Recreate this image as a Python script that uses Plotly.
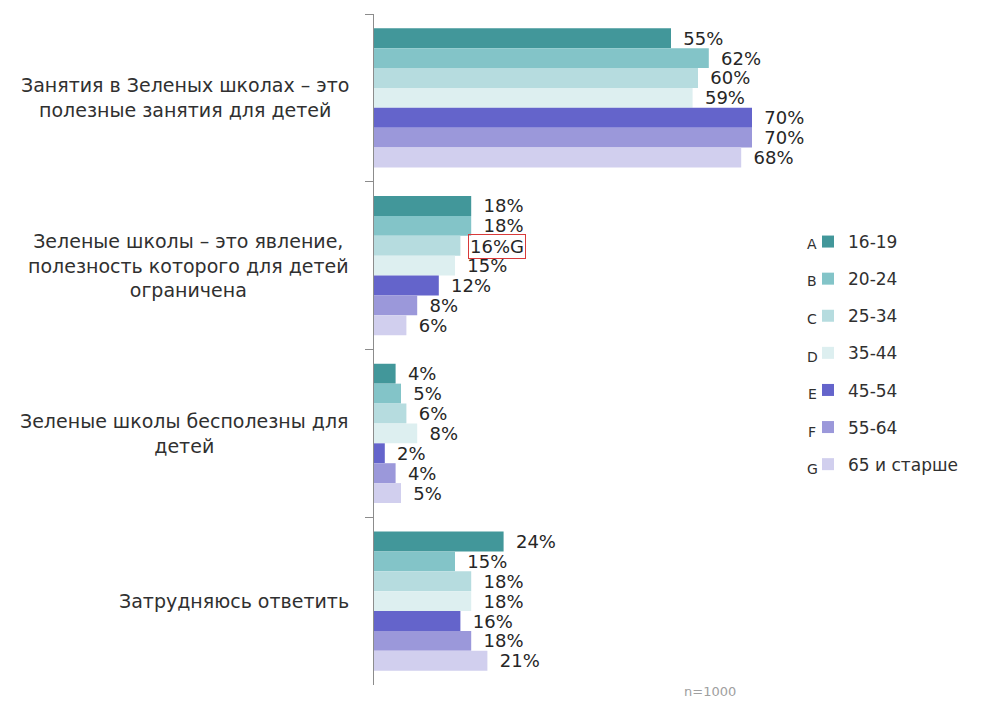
import plotly.graph_objects as go

categories = [
    "Занятия в Зеленых школах – это<br>полезные занятия для детей",
    "Зеленые школы – это явление,<br>полезность которого для детей<br>ограничена",
    "Зеленые школы бесполезны для<br>детей",
    "Затрудняюсь ответить",
]
cat_keys = ["c1", "c2", "c3", "c4"]

age_groups = ["16-19", "20-24", "25-34", "35-44", "45-54", "55-64", "65 и старше"]
letters = ["A", "B", "C", "D", "E", "F", "G"]

v_16_19 = [55, 18, 4, 24]
v_20_24 = [62, 18, 5, 15]
v_25_34 = [60, 16, 6, 18]
v_35_44 = [59, 15, 8, 18]
v_45_54 = [70, 12, 2, 16]
v_55_64 = [70, 8, 4, 18]
v_65 = [68, 6, 5, 21]
series = [v_16_19, v_20_24, v_25_34, v_35_44, v_45_54, v_55_64, v_65]

colors = ["#42979A", "#83C4C8", "#B6DCDF", "#DDEFF0", "#6464CB", "#9B98DA", "#D1CFEE"]

# significance mark: series C, category 2 is significantly higher than G
sig_series = 2
sig_cat = 1
sig_letter = "G"

FONT = "DejaVu Sans, Liberation Sans, Arial"
OFF = 8  # page body margin in the browser
W, H = 986 - OFF, 706 - OFF
L, T = 374 - OFF, 14 - OFF
pw = 432
ph = 671
R = W - L - pw
B = H - T - ph


def px_x(page_x):
    return (page_x - OFF - L) / pw


def px_y(page_y):
    return 1 - (page_y - OFF - T) / ph


fig = go.Figure()
for i, (name, vals, col) in enumerate(zip(age_groups, series, colors)):
    texts = []
    for j, v in enumerate(vals):
        if i == sig_series and j == sig_cat:
            texts.append("")
        else:
            texts.append("\u00a0\u2009" + f"{v}%")
    fig.add_trace(go.Bar(
        y=cat_keys, x=vals, orientation="h", name=name,
        marker=dict(color=col, line=dict(width=0)),
        text=texts, textposition="outside", cliponaxis=False,
        constraintext="none",
        textfont=dict(size=18, color="#262626", family=FONT),
        legendgroup=name, hoverinfo="x+name",
    ))

# significance annotation
fig.add_annotation(
    x=series[sig_series][sig_cat], y=cat_keys[sig_cat], xref="x", yref="y",
    text=f"{series[sig_series][sig_cat]}%{sig_letter}", showarrow=False,
    xanchor="left", yanchor="middle", xshift=8, yshift=19,
    bordercolor="#D83A3A", borderwidth=1, borderpad=1,
    font=dict(size=18, color="#262626", family=FONT),
)

# category labels: blocks right-aligned near the axis, lines centered
for key, lab in zip(cat_keys, categories):
    fig.add_annotation(
        x=px_x(351), xref="paper", y=key, yref="y",
        text=lab, showarrow=False, xanchor="right", yanchor="middle",
        align="center",
        font=dict(size=19, color="#303030", family=FONT),
    )

# letters next to legend
leg_top = 244
leg_step = 37.5
for k, let in enumerate(letters):
    fig.add_annotation(
        x=px_x(812), xref="paper", y=px_y(leg_top + k * leg_step), yref="paper",
        text=let, showarrow=False, xanchor="center", yanchor="middle",
        font=dict(size=14, color="#303030", family=FONT),
    )

fig.add_annotation(
    x=px_x(710), xref="paper", y=px_y(692), yref="paper",
    text="n=1000", showarrow=False, xanchor="center", yanchor="middle",
    font=dict(size=13, color="#A0A0A0", family=FONT),
)

fig.update_layout(
    width=W, height=H,
    margin=dict(l=L, r=R, t=T, b=B, autoexpand=False),
    paper_bgcolor="white", plot_bgcolor="white",
    barmode="group", bargap=0.17, bargroupgap=0,
    font=dict(family=FONT, color="#303030"),
    showlegend=True,
    legend=dict(
        x=px_x(808), xanchor="left",
        y=px_y(224), yanchor="top",
        font=dict(size=17, color="#303030", family=FONT),
        tracegroupgap=12, itemwidth=30,
        bgcolor="rgba(0,0,0,0)",
    ),
    xaxis=dict(range=[0, 80], visible=False, showgrid=False, zeroline=False),
    yaxis=dict(
        autorange="reversed", showticklabels=False, showgrid=False,
        showline=True, linecolor="#8C8C8C", linewidth=1,
        ticks="outside", tickson="boundaries", ticklen=8, tickcolor="#8C8C8C",
    ),
)

fig.write_html("out.html")
